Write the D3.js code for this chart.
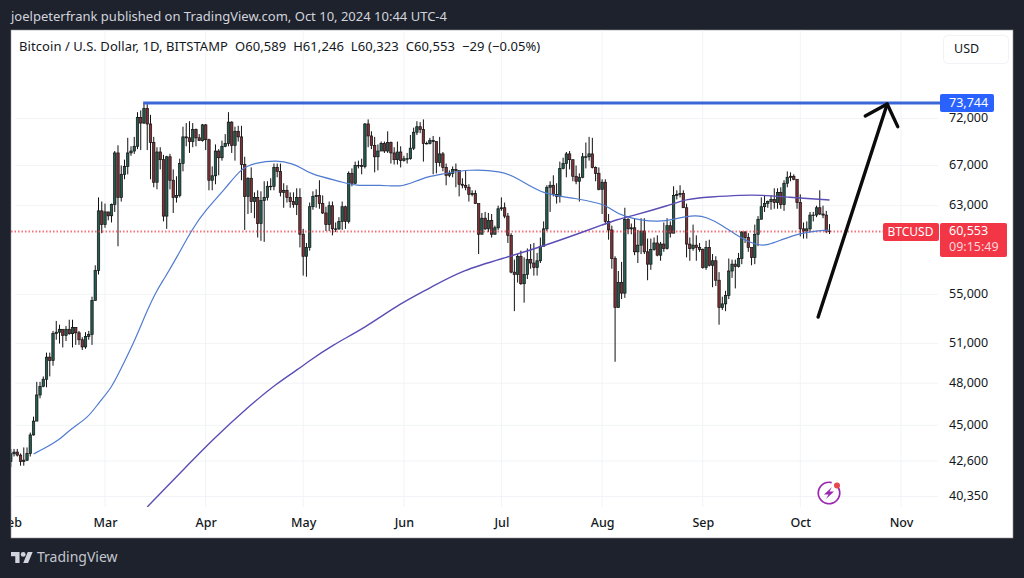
<!DOCTYPE html>
<html>
<head>
<meta charset="utf-8">
<script src="https://cdn.jsdelivr.net/npm/d3@7"></script>
<style>
  html, body { margin: 0; padding: 0; background: #1e222d; }
  svg { display: block; }
  text { font-family: "Noto Sans", sans-serif; }
</style>
</head>
<body>
<div id="chart"></div>
<script>
// daily candles, 1 Feb to 10 Oct 2024, one row per month
const firstDay = "2024-02-01";
const firstOpen = 42580;
const closes = [
  43080,43190,42990,42580,42660,43090,44340,45290,47140,47770,48290,49950,49700,51790,51900,52130,51650,52130,51780,52270,51850,51300,50740,51570,51730,54480,57040,62500,61200,
  62400,62030,63130,68300,63800,66100,66900,68300,68500,69000,72100,71500,73100,71400,69400,65300,68400,67600,62000,67900,65500,63800,64000,67200,70000,69900,69500,70800,69900,69600,71300,
  69700,65500,65950,68500,67800,69000,69300,71600,69100,70600,70000,67100,63900,65700,63400,63800,61300,63500,63800,64900,64900,66800,66400,64300,64500,63800,63400,63100,63800,60300,
  58300,59100,62900,63900,64000,63200,62300,61200,63000,60800,60800,61500,62900,61500,66200,65200,67000,67000,66900,71400,70100,69100,67900,68500,69300,68500,69400,68300,67600,68400,67500,
  67700,67700,68800,70500,71100,70800,69300,69300,69600,69500,67300,68200,66800,66000,66200,66600,66500,65100,65000,64800,64100,64200,63200,60300,61800,60800,61600,60300,60900,62700,
  62800,62000,60200,56900,56700,58300,55900,56700,58000,57700,57300,57900,59200,60800,64800,65000,64100,63900,66700,67200,68200,67600,65900,65400,65800,67900,67900,68200,66800,66200,64600,
  65300,61500,60700,58100,53900,56000,55100,61700,60800,60900,58700,59300,60600,58700,57600,58900,59500,58400,59400,59000,61100,60400,64000,64100,64200,62800,59400,59000,59300,59100,58900,
  57300,59100,57500,57900,56200,53900,54200,54900,57000,57600,57400,58100,60500,60000,59100,58200,60300,61700,62900,63200,63400,63600,63300,64300,63100,65200,65800,65900,65600,63300,
  60800,60600,60800,62100,62100,62800,62200,62100,60589,60553
];
const highs = [
  43400,43400,43400,43100,43500,43500,44500,45600,48100,48100,48500,50300,50300,52000,52800,52500,52000,52400,52900,52900,52300,52000,51500,51900,52000,54800,57500,63800,63400,
  63200,62400,63200,68500,69100,67000,67600,69900,69000,70000,72700,72900,73744,73600,72400,70000,68900,68900,68100,68000,68200,66600,65900,67700,71100,71500,71700,71500,70900,70300,71400,
  71400,69800,66900,69200,68700,69600,70300,72700,71700,71100,71200,71200,67900,65800,66800,64300,64500,64400,65400,65400,65700,67200,67200,67200,65200,65000,64300,64300,64700,64700,
  60800,59500,63300,64400,64600,65500,64000,62900,63400,63400,61400,61900,63400,63000,66400,66700,67400,67500,67700,71500,71900,70600,70000,69200,69500,69500,70600,69500,68900,69500,69000,
  68000,68300,70200,71000,71700,71600,71900,69500,69900,70100,69500,70000,68400,67200,66500,66900,67200,66400,65700,66500,65100,64500,64500,62400,62300,62400,62300,62200,61100,63000,
  63800,63300,62300,60400,58000,58500,58800,58200,59000,59400,59500,58600,60000,61500,65000,65400,66000,65200,67400,67800,68400,68500,67000,67000,66200,68300,69400,70000,69900,66900,66800,
  65600,65600,62200,61100,58300,57000,57800,62800,61800,61300,61800,60700,61800,61800,59900,59900,60000,60200,59600,61400,61800,61500,64900,64500,65000,64500,63200,60000,61200,60200,59500,
  59000,59700,59800,58500,58300,56900,54800,55300,58100,58000,58000,58600,60600,60600,60400,59000,61200,62000,63800,64000,63500,64000,64700,64700,64800,65500,66400,66300,66100,65500,
  64100,61400,61500,62400,62400,63000,64500,63000,62500,61246
];
const lows = [
  42200,42900,42900,42300,42300,42600,42900,44300,45300,46900,47700,47700,48500,49300,51300,51000,50700,51200,51700,50700,50900,50900,50500,50600,51300,50900,54500,56700,60400,
  60900,61600,61400,62400,59200,63400,65600,66100,68000,68200,68700,68600,71400,68600,65600,64800,64600,66600,61500,60800,64600,62300,63300,63800,66400,69000,68300,68900,69000,69600,69500,
  68600,64500,64500,65100,66000,67500,68900,69000,68300,67500,69500,65500,60700,62200,62300,61800,60000,59700,59600,63500,64500,64500,65800,63900,62800,63300,62800,62800,62100,59100,
  56600,56500,58800,62600,62800,62700,62200,60600,60600,60200,60500,60700,60700,60800,61300,64900,65100,66700,66100,66700,68900,68700,66300,66500,68500,68300,68300,67200,67100,67100,66800,
  67400,67200,67600,68600,70200,70400,67400,69200,69200,66100,66200,66900,66400,65000,65800,65800,64800,63900,64700,64500,63400,63900,63200,58500,60700,60700,60500,60000,60300,60700,
  62500,61800,59500,56800,53600,56000,55800,54300,56300,57200,56600,56600,57700,59400,60600,62400,63900,63200,63300,66600,65800,66600,65400,65100,63400,65700,66700,67500,66700,65400,64500,
  62200,61200,59800,57200,49600,53900,54600,54700,60300,60300,58400,57700,58500,58500,56200,57100,58800,58300,57900,58700,58900,60000,60400,63600,63800,62800,58200,57900,58800,57900,58700,
  57200,57100,57400,55600,55700,52500,53700,53600,54600,56400,55500,57300,57600,59500,58700,57500,57600,59200,61700,62400,62800,62600,62700,62700,62700,62500,64800,65400,65500,62700,
  60100,59900,59900,60500,61500,61900,62100,61800,60400,60323
];

// 50 day average
const ma50Dates = ["02-08","02-11","02-16","02-19","02-25","02-28","03-03","03-06","03-10","03-14","03-17","03-19","03-23","03-28","04-01","04-07","04-12","04-16","04-23","04-28","04-30","05-03","05-13","05-17","05-25","05-31","06-04","06-09","06-13","06-21","07-01","07-06","07-14","07-24","08-01","08-03","08-07","08-19","08-24","08-30","09-02","09-07","09-12","09-18","09-21","09-25","10-01","10-06","10-10"];
const ma50Values = [43065,43395,44000,44680,45570,46570,47640,49125,51130,53690,55365,56215,58150,60880,62585,64655,66740,67250,67560,67150,66845,66130,65330,64930,65030,64830,65330,65930,66130,66630,66430,65730,64035,63745,63155,62875,61910,61350,61810,62105,61910,61160,60050,59230,59320,59770,60420,60600,60690];

// 200 day average
const ma200Dates = ["03-14","03-17","03-22","03-25","04-03","04-14","04-23","04-30","05-02","05-10","05-20","05-31","06-09","06-19","07-03","07-14","07-26","08-01","08-06","08-09","08-22","08-27","09-03","09-13","09-19","09-27","10-10"];
const ma200Values = [39710,40320,41380,42010,44000,46280,48010,49125,49515,50895,52240,54270,55530,57085,58235,59230,60500,61160,61720,61910,63065,63645,63835,64035,64035,63835,63545];

const priceTicks = [72000, 67000, 63000, 55000, 51000, 48000, 45000, 42600, 40350];
const monthTicks = ["2024-02-01","2024-03-01","2024-04-01","2024-05-01","2024-06-01","2024-07-01","2024-08-01","2024-09-01","2024-10-01","2024-11-01"];
const allTimeHigh = 73744;
const lastPrice = 60553;
const countdown = "09:15:49";
const publishLine = "joelpeterfrank published on TradingView.com, Oct 10, 2024 10:44 UTC-4";
const legendLine = "Bitcoin / U.S. Dollar, 1D, BITSTAMP \u00a0O60,589 \u00a0H61,246 \u00a0L60,323 \u00a0C60,553 \u00a0\u221229 (\u22120.05%)";

// hand drawn arrow, date and price of each end
const arrowStem = [["2024-10-06T12:00Z", 53120], ["2024-10-27T18:00Z", 73610]];
const arrowHead = [["2024-10-21T00:00Z", 72280], ["2024-10-27T18:00Z", 73610], ["2024-10-31T00:00Z", 71110]];

const width = 1024, height = 578;
const panel = { left: 11, top: 30, right: 1013, bottom: 538 };
const plot = { right: 938, bottom: 507 };

const parseDay = d => new Date(d.includes("T") ? d : d + "T00:00Z");
const start = parseDay(firstDay);
const candles = closes.map((c, i) => ({
  date: d3.utcDay.offset(start, i),
  open: i === 0 ? firstOpen : closes[i - 1],
  high: highs[i],
  low: lows[i],
  close: c
}));

const x = d3.scaleUtc()
  .domain([parseDay("2024-03-01"), parseDay("2024-11-01")])
  .range([105, 901]);
const y = d3.scaleLog()
  .domain([40350, 72000])
  .range([496.5, 118.5]);

const svg = d3.select("#chart").append("svg")
  .attr("width", width)
  .attr("height", height);

svg.append("rect")
  .attr("width", width)
  .attr("height", height)
  .attr("fill", "#1e222d");
svg.append("rect")
  .attr("x", panel.left)
  .attr("y", panel.top)
  .attr("width", panel.right - panel.left)
  .attr("height", panel.bottom - panel.top)
  .attr("fill", "#fff")
  .attr("stroke", "#8f929b")
  .attr("stroke-width", 0.6);

const defs = svg.append("defs");
defs.append("clipPath").attr("id", "plot-clip").append("rect")
  .attr("x", panel.left)
  .attr("y", panel.top)
  .attr("width", plot.right - panel.left)
  .attr("height", plot.bottom - panel.top);
defs.append("clipPath").attr("id", "panel-clip").append("rect")
  .attr("x", panel.left)
  .attr("y", panel.top)
  .attr("width", panel.right - panel.left)
  .attr("height", panel.bottom - panel.top);

// gridlines
const grid = svg.append("g").classed("gridlines", true).attr("clip-path", "url(#plot-clip)");
grid.selectAll("line.y")
  .data(priceTicks)
  .join("line")
  .classed("y", true)
  .attr("x1", 15)
  .attr("x2", plot.right)
  .attr("y1", d => y(d))
  .attr("y2", d => y(d))
  .style("stroke", "#f1f3f6");
grid.selectAll("line.x")
  .data(monthTicks)
  .join("line")
  .classed("x", true)
  .attr("x1", d => x(parseDay(d)))
  .attr("x2", d => x(parseDay(d)))
  .attr("y1", panel.top)
  .attr("y2", plot.bottom)
  .style("stroke", "#f1f3f6");

// axes
const axisX = d3.axisBottom(x)
  .tickValues(monthTicks.map(parseDay))
  .tickFormat(d3.utcFormat("%b"))
  .tickSize(0)
  .tickPadding(0);
svg.append("g")
  .attr("clip-path", "url(#panel-clip)")
  .append("g")
  .attr("transform", `translate(0,${plot.bottom + 11})`)
  .call(axisX)
  .call(g => g.select(".domain").remove())
  .selectAll("text")
  .style("font-size", "12.5px")
  .style("font-weight", 500)
  .style("fill", "#131722");

const axisY = d3.axisRight(y)
  .tickValues(priceTicks)
  .tickFormat(d3.format(","))
  .tickSize(0)
  .tickPadding(0);
svg.append("g")
  .attr("transform", "translate(949,-1)")
  .call(axisY)
  .call(g => g.select(".domain").remove())
  .selectAll("text")
  .style("font-size", "12.5px")
  .style("fill", "#131722");

// candles
const chartGroup = svg.append("g").attr("clip-path", "url(#plot-clip)");
const candleGroup = chartGroup.append("g").classed("candles", true);
candleGroup.selectAll("line")
  .data(candles)
  .join("line")
  .attr("x1", d => x(d.date))
  .attr("x2", d => x(d.date))
  .attr("y1", d => y(d.high))
  .attr("y2", d => y(d.low))
  .style("stroke", "#111")
  .style("stroke-width", 1);
candleGroup.selectAll("rect")
  .data(candles)
  .join("rect")
  .attr("x", d => x(d.date) - 1.2)
  .attr("width", 2.4)
  .attr("y", d => y(Math.max(d.open, d.close)))
  .attr("height", d => Math.max(0.5, Math.abs(y(d.open) - y(d.close))))
  .style("fill", d => d.close >= d.open ? "#245c50" : "#7f3138")
  .style("stroke", "#111")
  .style("stroke-width", 0.7);

// last price dotted line, over the candles
chartGroup.append("line")
  .attr("x1", panel.left)
  .attr("x2", 884)
  .attr("y1", y(lastPrice))
  .attr("y2", y(lastPrice))
  .style("stroke", "#f23645")
  .style("stroke-opacity", 0.7)
  .style("stroke-width", 2)
  .style("stroke-dasharray", "1.5 2");

// moving averages
const maLine = d3.line()
  .x(d => x(d.date))
  .y(d => y(d.value))
  .curve(d3.curveBasis);
const maPoints = (dates, values) => dates.map((d, i) => ({ date: parseDay("2024-" + d), value: values[i] }));
chartGroup.append("path")
  .attr("d", maLine(maPoints(ma50Dates, ma50Values)))
  .style("fill", "none")
  .style("stroke", "#4f7bd0")
  .style("stroke-width", 1.2);
chartGroup.append("path")
  .attr("d", maLine(maPoints(ma200Dates, ma200Values)))
  .style("fill", "none")
  .style("stroke", "#5a4db5")
  .style("stroke-width", 1.4);

// drawn annotations
svg.append("line")
  .attr("x1", x(parseDay("2024-03-12T18:00Z")))
  .attr("x2", 941)
  .attr("y1", y(allTimeHigh))
  .attr("y2", y(allTimeHigh))
  .style("stroke", "#3a66d8")
  .style("stroke-width", 3);

const arrowLine = d3.line()
  .x(d => x(parseDay(d[0])))
  .y(d => y(d[1]));
[arrowStem, arrowHead].forEach(pts => {
  svg.append("path")
    .attr("d", arrowLine(pts))
    .style("fill", "none")
    .style("stroke", "#0b0b0b")
    .style("stroke-width", 3.4)
    .style("stroke-linecap", "round")
    .style("stroke-linejoin", "round");
});

// price labels
const label = (x0, y0, w, h, color) => svg.append("rect")
  .attr("x", x0).attr("y", y0)
  .attr("width", w).attr("height", h)
  .attr("rx", 2)
  .attr("fill", color);
const labelText = (str, tx, ty, color, size) => svg.append("text")
  .text(str)
  .attr("x", tx)
  .attr("y", ty)
  .attr("dominant-baseline", "middle")
  .style("font-size", size + "px")
  .style("fill", color);

label(940, 94, 54, 18, "#2962ff");
labelText(d3.format(",")(allTimeHigh), 949, y(allTimeHigh) + 0.5, "#fff", 12.5);

label(883, 223, 56, 18, "#f23645");
labelText("BTCUSD", 887.5, 232.5, "#fff", 12);
label(940, 223, 67, 34, "#f23645");
labelText(d3.format(",")(lastPrice), 949, 232, "#fff", 12.5);
labelText(countdown, 949, 247.5, "#fcd5d9", 12.5);

// currency button
svg.append("rect")
  .attr("x", 943.5).attr("y", 35.5)
  .attr("width", 65).attr("height", 28)
  .attr("rx", 4)
  .attr("fill", "#fff")
  .attr("stroke", "#f0f2f6");
labelText("USD", 954, 49.5, "#131722", 12.5);

// header and legend
labelText(publishLine, 11, 18, "#d1d4dc", 13);
labelText(legendLine, 19, 48, "#131722", 13).style("letter-spacing", "0.07px");

// replay icon
const icon = svg.append("g").attr("transform", "translate(829,493)");
icon.append("path")
  .attr("d", d3.arc()({ innerRadius: 9.9, outerRadius: 11.6, startAngle: 0.95, endAngle: 2 * Math.PI + 0.25 }))
  .attr("fill", "#9c27b0");
icon.append("path")
  .attr("d", "M3 -6 L-5 1.5 L-0.5 1.5 L-3 6 L5 -1.5 L0.5 -1.5 Z")
  .attr("fill", "#9c27b0");
icon.append("circle")
  .attr("cx", 8).attr("cy", -7.5).attr("r", 3)
  .attr("fill", "#e5484d");

// footer logo
const logo = svg.append("g")
  .attr("transform", "translate(11,549.5) scale(0.61)")
  .attr("fill", "#d1d4dc");
logo.append("path").attr("d", "M14 22H7V11H0V4h14v18zM28 22h-8l7.5-18h8L28 22z");
logo.append("circle").attr("cx", 20).attr("cy", 8).attr("r", 4);
labelText("TradingView", 37, 558, "#c3c6ce", 14);
</script>
</body>
</html>
